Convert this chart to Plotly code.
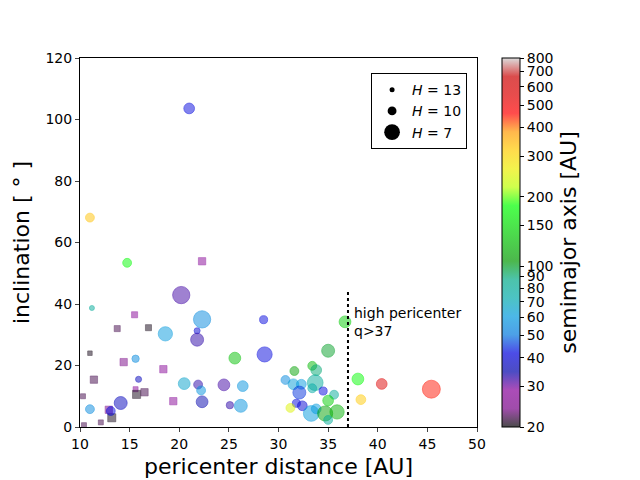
import numpy as np
import plotly.graph_objects as go

# objects drawn as circles
circ_q = [11.2, 20.2, 22.3, 21.8, 18.6, 21.8, 28.5, 15.6, 25.6, 28.6, 15.9, 20.5, 21.9, 22.2, 24.5, 26.4,
          14.1, 22.3, 25.1, 26.2, 11.0, 13.1, 21.0, 11.0, 14.75, 36.7, 35.0, 33.4, 33.8, 31.6, 30.7, 31.5,
          32.3, 33.7, 32.1, 33.4, 34.5, 35.6, 35.0, 31.8, 32.4, 31.2, 33.3, 33.8, 34.7, 35.9, 35.0, 38.0,
          40.4, 38.3, 45.4]
circ_inc = [38.7, 42.9, 35.0, 31.3, 30.3, 28.4, 34.9, 22.2, 22.4, 23.6, 15.5, 14.1, 13.8, 11.9, 13.7, 13.3,
            7.8, 8.2, 7.1, 6.9, 5.8, 5.2, 103.6, 68.1, 53.4, 34.2, 24.8, 19.9, 18.5, 18.2, 15.3, 13.9,
            13.9, 14.4, 11.2, 12.6, 11.7, 10.5, 8.6, 7.7, 6.9, 6.2, 4.4, 5.9, 4.4, 4.9, 2.3, 15.6,
            14.0, 8.9, 12.3]
circ_a = [80, 32, 55, 40, 60, 33, 42, 55, 130, 42, 37, 65, 33, 58, 32, 58,
          37, 35, 33, 58, 55, 42, 42, 330, 180, 140, 100, 125, 90, 110, 55, 62,
          60, 80, 45, 75, 42, 80, 140, 42, 40, 250, 60, 60, 110, 120, 80, 180,
          550, 320, 450]
circ_H = [13, 6.5, 6.5, 12, 7.5, 8, 10.5, 11, 8.5, 7.2, 12, 8.5, 10, 10, 8.5, 9,
          8, 8.5, 11, 8, 10, 10, 9, 10, 10, 8.5, 8, 10, 9, 10, 10, 9,
          9.5, 7, 8, 10, 10.5, 10, 9, 10.5, 9.5, 10, 7, 9.5, 7.2, 7.5, 10, 8.5,
          9, 9.5, 6.3]

# objects drawn as squares
sq_q = [15.5, 13.75, 16.9, 11.0, 14.4, 18.4, 11.4, 10.3, 15.6, 15.7, 16.5, 19.4, 13.2, 12.1, 10.4, 22.3, 12.9]
sq_inc = [36.5, 32.0, 32.3, 24.0, 21.1, 18.8, 15.4, 10.0, 12.3, 10.6, 11.3, 8.4, 3.0, 1.5, 0.6, 53.9, 5.6]
sq_a = [28, 22, 20.5, 20.5, 24, 28, 22, 22, 28, 20.5, 22, 28, 20.5, 22, 22, 28, 24]
sq_H = [12, 12, 12, 13.5, 11, 11, 11, 13, 13, 10.5, 11, 11, 10.5, 13, 13, 11, 11]

legend_H = [13, 10, 7]
cbar_ticks = [20, 30, 40, 50, 60, 70, 80, 90, 100, 150, 200, 300, 400, 500, 600, 700, 800]
q_cut = 37
a_min, a_max = 20, 800

# nipy_spectral colormap, with alpha like the original
_r = [0, .4667, .5333, 0, 0, 0, 0, 0, 0, 0, 0, 0, 0, .7333, .9333, 1, 1, 1, .8667, .8, .8]
_g = [0, 0, 0, 0, 0, .4667, .6, .6667, .6667, .6, .7333, .8667, 1, 1, .9333, .8, .6, 0, 0, 0, .8]
_b = [0, .5333, .6, .6667, .8667, .8667, .8667, .6667, .5333, 0, 0, 0, 0, 0, 0, 0, 0, 0, 0, 0, .8]
alpha = 0.7
cscale = [[i / 20, "rgba({},{},{},{})".format(int(r * 255), int(g * 255), int(b * 255), alpha)]
          for i, (r, g, b) in enumerate(zip(_r, _g, _b))]


def hsize(H):
    return [5 * 1.21 ** (13 - h) for h in H]


cmin, cmax = np.log10(a_min), np.log10(a_max)

fig = go.Figure()

fig.add_trace(go.Scatter(
    x=sq_q, y=sq_inc, mode="markers", showlegend=False, hoverinfo="skip",
    marker=dict(symbol="square", size=hsize(sq_H), color=np.log10(sq_a), colorscale=cscale,
                cmin=cmin, cmax=cmax,
                line=dict(width=0.8, color=np.log10(sq_a), colorscale=cscale, cmin=cmin, cmax=cmax)),
))

fig.add_trace(go.Scatter(
    x=circ_q, y=circ_inc, mode="markers", showlegend=False, hoverinfo="skip",
    marker=dict(symbol="circle", size=hsize(circ_H), color=np.log10(circ_a), colorscale=cscale,
                cmin=cmin, cmax=cmax,
                line=dict(width=1, color=np.log10(circ_a), colorscale=cscale, cmin=cmin, cmax=cmax),
                colorbar=dict(
                    x=1.063, xanchor="left", y=0.5, yanchor="middle", len=1, lenmode="fraction",
                    xpad=0, ypad=0,
                    thickness=18, outlinewidth=1, outlinecolor="black",
                    tickvals=np.log10(cbar_ticks), ticktext=[str(t) for t in cbar_ticks],
                    ticks="outside", ticklen=4, tickcolor="black", tickfont=dict(size=14),
                    title=dict(text="semimajor axis [AU]", side="right", font=dict(size=22)),
                )),
))

# size legend
for h, s in zip(legend_H, hsize(legend_H)):
    fig.add_trace(go.Scatter(x=[None], y=[None], mode="markers", name="<i>H</i> = {}".format(h),
                             marker=dict(color="black", size=s)))

# high pericenter cut
fig.add_shape(type="line", x0=q_cut, x1=q_cut, y0=0, y1=44, xref="x", yref="y",
              line=dict(color="black", width=2, dash="dot"))
fig.add_annotation(x=q_cut + 0.4, y=34, xref="x", yref="y", text="high pericenter<br>q>37",
                   showarrow=False, xanchor="left", yanchor="middle", align="left",
                   font=dict(size=14, color="black"))

# page body adds 8px, so the margins are shifted by that
fig.update_layout(
    width=640, height=480,
    margin=dict(l=72, r=171, t=50, b=61, autoexpand=False),
    plot_bgcolor="white", paper_bgcolor="white",
    font=dict(family="DejaVu Sans", color="black", size=14),
    legend=dict(x=0.975, y=0.959, xanchor="right", yanchor="top", bordercolor="black", borderwidth=1,
                bgcolor="white", font=dict(size=14), itemsizing="trace", tracegroupgap=0),
)
fig.update_xaxes(range=[10, 50], tickvals=list(range(10, 51, 5)), showline=True, mirror=True,
                 linecolor="black", linewidth=1, ticks="outside", ticklen=4, showgrid=False, zeroline=False,
                 automargin=False,
                 title=dict(text="pericenter distance [AU]", font=dict(size=22), standoff=7))
fig.update_yaxes(range=[0, 120], tickvals=list(range(0, 121, 20)), showline=True, mirror=True,
                 linecolor="black", linewidth=1, ticks="outside", ticklen=4, showgrid=False, zeroline=False,
                 automargin=False,
                 title=dict(text="inclination [ ° ]", font=dict(size=22), standoff=9))

fig.write_html("out.html")
